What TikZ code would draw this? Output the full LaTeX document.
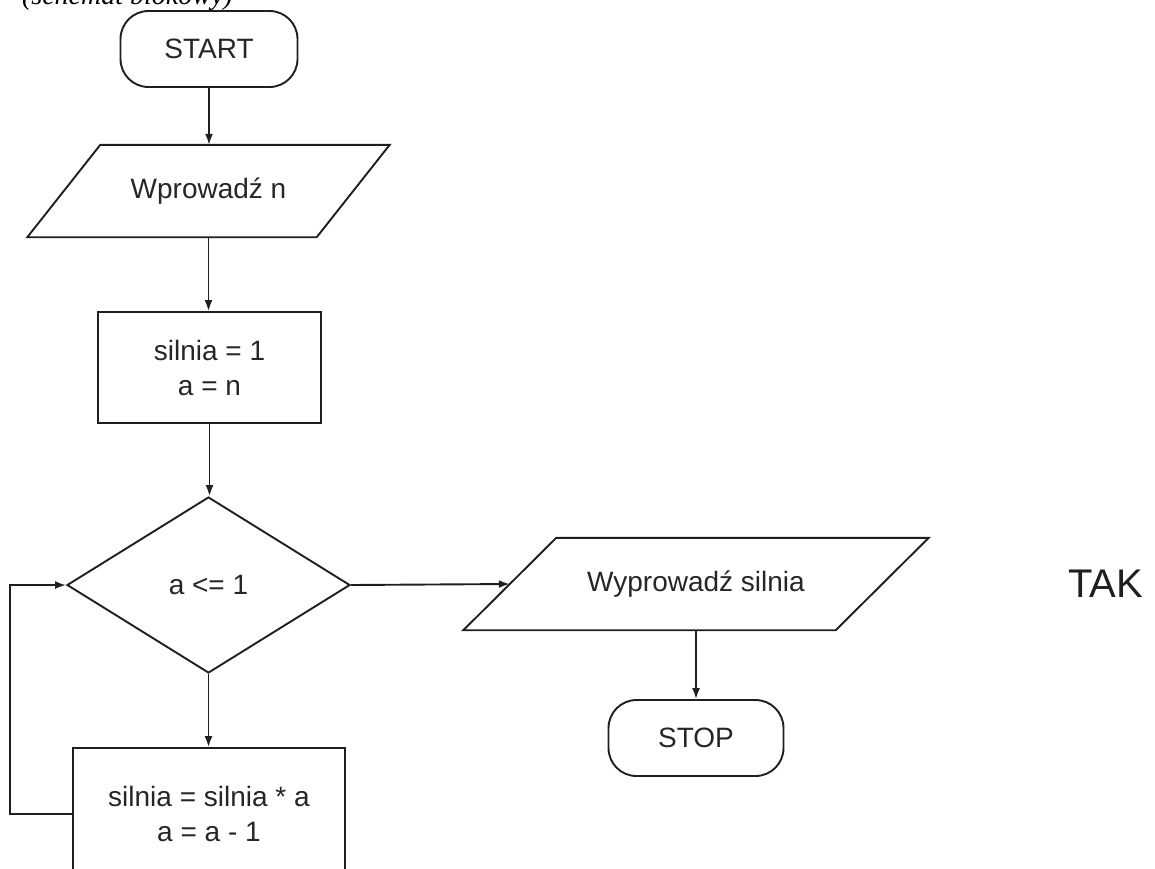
\documentclass[tikz,border=0pt]{standalone}
\usepackage{fontspec}
\setmainfont{Liberation Sans}
\newfontfamily\captionserif{Liberation Serif}
\usetikzlibrary{shapes.geometric,arrows.meta}

\tikzset{
  flow/.style={draw=black!88, line width=1.9pt},
  txt/.style={font=\fontsize{28}{35}\selectfont, text=black!85, align=center},
  terminal/.style={flow, txt, rectangle, rounded corners=28pt, minimum width=177pt, minimum height=76pt, inner sep=0pt},
  process/.style={flow, txt, rectangle, inner sep=0pt},
  iobody/.style={txt, rectangle, inner sep=0pt, minimum height=92pt},
  decision/.style={flow, txt, diamond, inner sep=0pt, minimum width=283pt, minimum height=176pt},
  conn/.style={draw=black!88, line width=1.9pt, -{Latex[length=11pt,width=8pt]}},
}

\begin{document}
\begin{tikzpicture}[x=1pt, y=-1pt]
  \useasboundingbox (0,0) rectangle (1155,868);
  \clip (0,0) rectangle (1155,868);

  % heading line above the chart
  \node[anchor=base east, font=\captionserif\itshape\fontsize{28}{32}\selectfont, inner sep=0pt] (title) at (233,4) {(schemat blokowy)};

  % main column
  \node[terminal] (start) at (209,49) {START};
  \node[iobody, minimum width=289pt] (in) at (208.5,191) {Wprowadź n};
  \draw[flow] ([xshift=36.5pt]in.north west) -- ([xshift=36.5pt]in.north east)
              -- ([xshift=-36.5pt]in.south east) -- ([xshift=-36.5pt]in.south west) -- cycle;
  \node[process, minimum width=223pt, minimum height=111pt] (init) at (209.5,367.5) {silnia = 1\\a = n};
  \node[decision] (cond) at (208.5,585) {a <= 1};
  \node[process, minimum width=272pt, minimum height=132pt] (body) at (209,814) {silnia = silnia * a\\a = a - 1};

  % output branch
  \node[iobody, minimum width=372pt] (out) at (696,584) {Wyprowadź silnia};
  \draw[flow] ([xshift=46.5pt]out.north west) -- ([xshift=46.5pt]out.north east)
              -- ([xshift=-46.5pt]out.south east) -- ([xshift=-46.5pt]out.south west) -- cycle;
  \node[terminal, minimum width=175pt] (stop) at (696,738) {STOP};

  \node[anchor=base west, font=\fontsize{40}{48}\selectfont, text=black!88, inner sep=0pt] (yes) at (1068,597) {TAK};

  % connectors
  \draw[conn] (start.south) -- (start.south |- in.north);
  \draw[conn] (in.south) -- (in.south |- init.north);
  \draw[conn] (init.south) -- (init.south |- cond.north);
  \draw[conn] (cond.south) -- (cond.south |- body.north);
  \draw[conn] (cond.east) -- (out.west);
  \draw[conn] (out.south) -- (out.south |- stop.north);
  \draw[conn] (body.west) -- ++(-62,0) |- (cond.west);
\end{tikzpicture}
\end{document}
